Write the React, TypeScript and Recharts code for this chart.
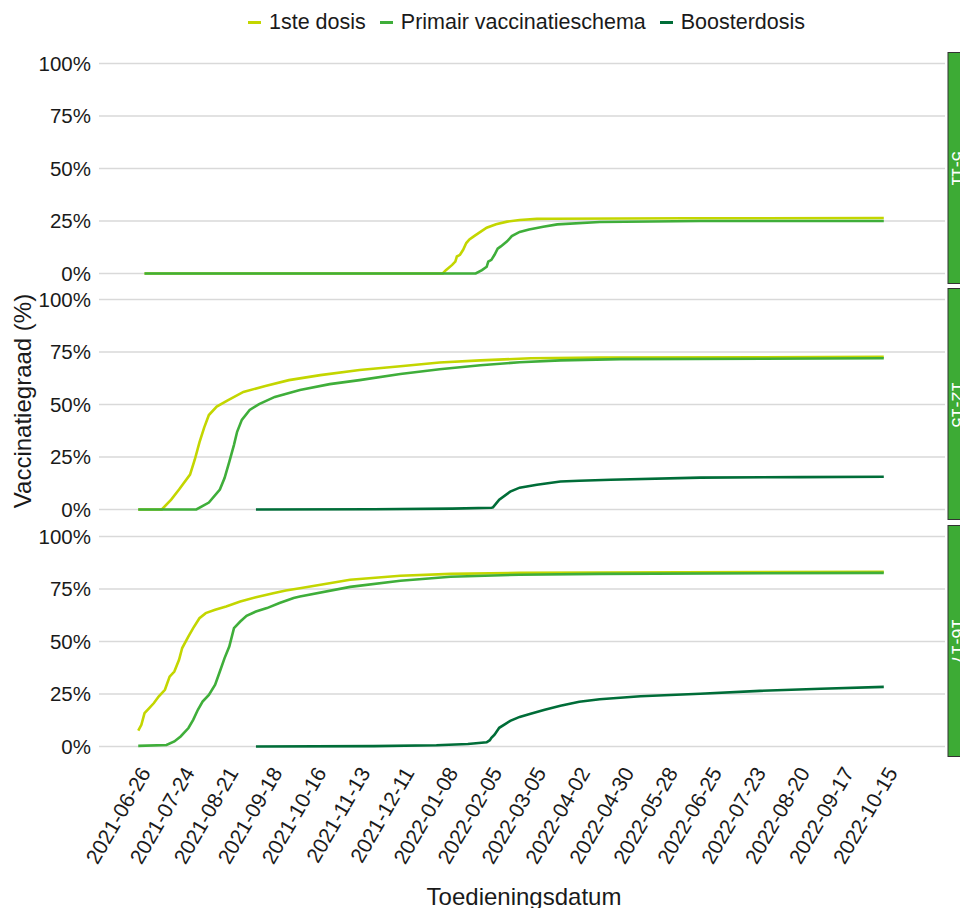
import { Line, LineChart, ReferenceLine, XAxis, YAxis } from "recharts";

const FONT = "'Liberation Sans', Arial, sans-serif";
const START = Date.UTC(2021, 5, 26);
const dayOf = (s: string) => Math.round((Date.parse(s) - START) / 86400000);

// x-as: datums (elke 28 dagen)
const xTickLabels = [
  "2021-06-26", "2021-07-24", "2021-08-21", "2021-09-18", "2021-10-16",
  "2021-11-13", "2021-12-11", "2022-01-08", "2022-02-05", "2022-03-05",
  "2022-04-02", "2022-04-30", "2022-05-28", "2022-06-25", "2022-07-23",
  "2022-08-20", "2022-09-17", "2022-10-15",
];
const yTicks = [0, 25, 50, 75, 100];

// [dagen sinds 2021-06-26, vaccinatiegraad %]
const eerste_5_11: [number, number][] = [
  [4, 0], [194, 0], [196, 1.6], [200, 4.1], [202, 5.7], [203, 8.1], [205, 8.9],
  [207, 11.3], [209, 14.5], [211, 16.2], [214, 17.8], [218, 19.8], [222, 21.8],
  [228, 23.4], [235, 24.7], [243, 25.5], [254, 26], [264, 26.1], [350, 26.3], [475, 26.4],
];
const primair_5_11: [number, number][] = [
  [4, 0], [215, 0], [219, 1.6], [222, 3.2], [223, 5.7], [225, 6.5], [227, 8.9],
  [229, 11.8], [231, 12.9], [235, 15.3], [238, 17.8], [243, 19.8], [249, 21],
  [258, 22.3], [267, 23.4], [294, 24.5], [358, 25], [475, 25],
];

const eerste_12_15: [number, number][] = [
  [0, 0], [15, 0], [21, 4.7], [26, 9.5], [33, 16.6], [36, 23.7], [39, 32],
  [42, 39], [45, 45], [50, 49], [57, 52], [67, 56], [81, 58.8], [96, 61.6],
  [116, 64], [141, 66.4], [167, 68.2], [192, 70], [218, 71], [250, 72],
  [294, 72.3], [475, 72.7],
];
const primair_12_15: [number, number][] = [
  [0, 0], [37, 0], [45, 3.3], [52, 9.5], [55, 15], [58, 22.7], [61, 30.8],
  [63, 37], [66, 42.7], [71, 47.4], [77, 50.2], [87, 53.6], [103, 56.9],
  [122, 59.7], [141, 61.6], [167, 64.5], [192, 66.8], [218, 68.7], [243, 70.1],
  [269, 71], [307, 71.6], [475, 72],
];
const booster_12_15: [number, number][] = [
  [75, 0], [150, 0.1], [200, 0.4], [225, 0.8], [226, 1], [230, 4.7], [237, 8.5],
  [243, 10.4], [254, 11.8], [269, 13.3], [281, 13.7], [301, 14.2], [358, 15.2],
  [422, 15.4], [475, 15.6],
];

const eerste_16_17: [number, number][] = [
  [0, 7.6], [2, 10.3], [4, 15.9], [7, 18.3], [10, 20.7], [13, 23.8], [17, 27],
  [20, 33.3], [23, 35.7], [26, 41.3], [28, 46.9], [32, 52.4], [35, 56.4],
  [39, 61.1], [43, 63.5], [49, 65.1], [56, 66.7], [65, 69], [75, 71.1],
  [86, 73], [94, 74.3], [103, 75.4], [135, 79.4], [167, 81.3], [199, 82.2],
  [243, 82.7], [475, 83.2],
];
const primair_16_17: [number, number][] = [
  [0, 0.3], [18, 0.7], [23, 2.4], [27, 4.8], [32, 8.8], [35, 12.7], [38, 17.5],
  [41, 21.4], [45, 24.6], [49, 29.4], [52, 35.7], [55, 42.1], [58, 47.6],
  [61, 56.4], [65, 59.5], [69, 62.2], [75, 64.3], [82, 65.9], [90, 68.3],
  [99, 70.7], [103, 71.4], [135, 76], [167, 78.9], [199, 80.8], [243, 81.8],
  [294, 82.2], [475, 82.7],
];
const booster_16_17: [number, number][] = [
  [75, 0], [150, 0.2], [190, 0.6], [210, 1.2], [222, 2], [224, 3], [225, 4.1],
  [227, 5.6], [230, 8.9], [234, 10.8], [237, 12.2], [243, 14.1], [250, 15.6],
  [259, 17.5], [269, 19.4], [281, 21.3], [294, 22.5], [320, 23.9], [358, 25.1],
  [396, 26.5], [435, 27.5], [475, 28.4],
];

const SERIES = [
  { key: "eerste", name: "1ste dosis", color: "#c3d600" },
  { key: "primair", name: "Primair vaccinatieschema", color: "#3fae3a" },
  { key: "booster", name: "Boosterdosis", color: "#006d38" },
];

const panels = [
  { label: "5-11", top: 53, eerste: eerste_5_11, primair: primair_5_11, booster: null },
  { label: "12-15", top: 289, eerste: eerste_12_15, primair: primair_12_15, booster: booster_12_15 },
  { label: "16-17", top: 526, eerste: eerste_16_17, primair: primair_16_17, booster: booster_16_17 },
];

const PANEL_H = 231;
const XAXIS_H = 140;
const xTicks = xTickLabels.map(dayOf);
const toPts = (a: [number, number][]) => a.map(([dag, pct]) => ({ dag, pct }));

function labelOf(d: number) {
  const i = xTicks.indexOf(d);
  return i >= 0 ? xTickLabels[i] : "";
}

function XTick({ x, y, payload }: any) {
  return (
    <text
      x={x}
      y={y}
      dy="0.72em"
      textAnchor="end"
      transform={`rotate(-60 ${x} ${y})`}
      fontSize={21}
      fill="#1a1a1a"
      fontFamily={FONT}
    >
      {labelOf(payload.value)}
    </text>
  );
}

function Panel({ panel, last }: { panel: any; last: boolean }) {
  return (
    <div style={{ position: "absolute", left: 0, top: panel.top }}>
      <LineChart
        width={960}
        height={last ? PANEL_H + XAXIS_H : PANEL_H}
        margin={{ top: 0, right: 15, bottom: 0, left: 0 }}
      >
        <XAxis
          type="number"
          dataKey="dag"
          domain={[-25, 514]}
          ticks={xTicks}
          interval={0}
          allowDataOverflow
          hide={!last}
          height={XAXIS_H}
          tickLine={false}
          axisLine={false}
          tick={<XTick />}
        />
        <YAxis
          type="number"
          domain={[-5, 105]}
          ticks={yTicks}
          interval={0}
          allowDataOverflow
          width={99}
          tickLine={false}
          axisLine={false}
          tickFormatter={(v: number) => `${v}%`}
          tick={{ fontSize: 20.5, fill: "#1a1a1a", fontFamily: FONT }}
        />
        {yTicks.map((v) => (
          <ReferenceLine key={v} y={v} stroke="#d9d9d9" strokeWidth={1.6} />
        ))}
        {SERIES.map((s) =>
          panel[s.key] ? (
            <Line
              key={s.key}
              data={toPts(panel[s.key])}
              dataKey="pct"
              name={s.name}
              type="linear"
              stroke={s.color}
              strokeWidth={2.6}
              dot={false}
              isAnimationActive={false}
            />
          ) : null
        )}
      </LineChart>
    </div>
  );
}

export default function App() {
  return (
    <div
      style={{
        position: "absolute",
        left: 0,
        top: 0,
        width: 960,
        height: 908,
        overflow: "hidden",
        background: "#fff",
        fontFamily: FONT,
      }}
    >
      <div
        style={{
          position: "absolute",
          top: 9,
          left: 248,
          display: "flex",
          alignItems: "center",
          fontSize: 21.5,
          lineHeight: "26px",
          color: "#1a1a1a",
          whiteSpace: "nowrap",
        }}
      >
        {SERIES.map((s) => (
          <div key={s.key} style={{ display: "flex", alignItems: "center", marginRight: 14 }}>
            <span style={{ width: 13, height: 3, background: s.color, marginRight: 8 }} />
            <span>{s.name}</span>
          </div>
        ))}
      </div>

      {panels.map((p, i) => (
        <Panel key={p.label} panel={p} last={i === panels.length - 1} />
      ))}

      <svg
        width={960}
        height={908}
        style={{ position: "absolute", left: 0, top: 0, pointerEvents: "none" }}
      >
        {panels.map((p) => (
          <g key={p.label}>
            <rect x={948} y={p.top - 0.5} width={30} height={PANEL_H} fill="#3dab35" stroke="#333" strokeWidth={1} />
            <text
              x={951.5}
              y={p.top + PANEL_H / 2}
              transform={`rotate(90 951.5 ${p.top + PANEL_H / 2})`}
              textAnchor="middle"
              fontSize={18}
              fill="#fff"
              fontFamily={FONT}
            >
              {p.label}
            </text>
          </g>
        ))}
        <text
          x={22}
          y={401}
          transform="rotate(-90 22 401)"
          textAnchor="middle"
          dominantBaseline="central"
          fontSize={24}
          fill="#1a1a1a"
          fontFamily={FONT}
        >
          Vaccinatiegraad (%)
        </text>
        <text
          x={524}
          y={896}
          textAnchor="middle"
          dominantBaseline="central"
          fontSize={24}
          fill="#1a1a1a"
          fontFamily={FONT}
        >
          Toedieningsdatum
        </text>
      </svg>
    </div>
  );
}
